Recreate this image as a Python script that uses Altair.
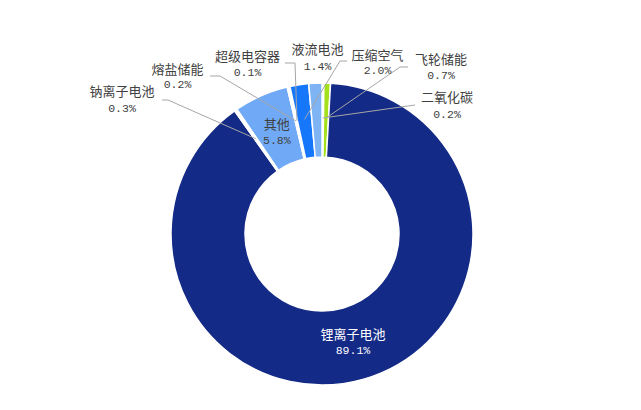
import altair as alt
import pandas as pd

# data, clockwise from 12 o'clock
names = ["二氧化碳", "飞轮储能", "锂离子电池", "钠离子电池", "其他", "熔盐储能", "超级电容器", "压缩空气", "液流电池"]
values = [0.2, 0.7, 89.1, 0.3, 5.8, 0.2, 0.1, 2.0, 1.4]
colors = ["#ffffff", "#a4e01c", "#142a87", "#ffffff", "#70aaf6", "#ffffff", "#ffffff", "#1677fb", "#7eb3f4"]

# label layout (chart pixel coords): name x, name y, pct y, leader anchor x, hook x, leader y, has line, inside
label_layout = {
    "二氧化碳": (439, 90, 107, 407, 407, 97, 1, 0),
    "飞轮储能": (433, 52, 68, 400, 392, 59, 1, 0),
    "锂离子电池": (0, 0, 0, 0, 0, 0, 0, 1),
    "钠离子电池": (114, 84, 101, 154, 160, 92, 1, 0),
    "其他": (0, 0, 0, 0, 0, 0, 0, 1),
    "熔盐储能": (169.5, 61.5, 76.5, 202, 212, 68, 1, 0),
    "超级电容器": (239.5, 48.5, 64.5, 277, 287, 55, 1, 0),
    "压缩空气": (369.5, 47.5, 62.5, 339, 332, 53, 1, 0),
    "液流电池": (309.5, 42, 58.5, 0, 0, 0, 0, 0),
}

CX, CY = 314, 226
R_OUT, R_IN = 151, 77

rows = []
for i, (n, v) in enumerate(zip(names, values)):
    lx, ly, py, ax, hx, ay, hl, ins = label_layout[n]
    rows.append(dict(idx=i, name=n, value=v, pct=f"{v:.1f}%", lx=lx, ly=ly, py=py,
                     ax=ax, hx=hx, ay=ay, has_line=hl, inside=ins))
df = pd.DataFrame(rows)

base = alt.Chart(df).transform_joinaggregate(
    total="sum(value)"
).transform_window(
    cum="sum(value)", sort=[alt.SortField("idx")], frame=[None, 0]
).transform_calculate(
    mid="(datum.cum - datum.value/2) / datum.total * 2 * PI",
).transform_calculate(
    sx=f"{CX} + 116 * sin(datum.mid)",
    sy=f"{CY} - 116 * cos(datum.mid)",
    tx=f"datum.inside ? {CX} + 112 * sin(datum.mid) : datum.lx",
    ty=f"datum.inside ? {CY} - 112 * cos(datum.mid) - 7 : datum.ly",
    tpy=f"datum.inside ? {CY} - 112 * cos(datum.mid) + 9 : datum.py",
    tcol="datum.name == '锂离子电池' ? 'white' : '#404040'",
)

arcs = alt.Chart(df).mark_arc(
    innerRadius=R_IN, outerRadius=R_OUT, stroke="white", strokeWidth=1.5
).encode(
    theta=alt.Theta("value:Q", stack=True, scale=alt.Scale(range=[0, 6.283185307179586])),
    order=alt.Order("idx:Q", sort="ascending"),
    color=alt.Color("name:N", scale=alt.Scale(domain=names, range=colors), legend=None),
    x=alt.value(CX),
    y=alt.value(CY),
)

lines_h = base.transform_filter("datum.has_line == 1").mark_rule(
    color="#a6a6a6", strokeWidth=1
).encode(
    x=alt.X("ax:Q", scale=None, axis=None),
    x2="hx:Q",
    y=alt.Y("ay:Q", scale=None, axis=None),
    y2="ay:Q",
)

lines_d = base.transform_filter("datum.has_line == 1").mark_rule(
    color="#a6a6a6", strokeWidth=1
).encode(
    x=alt.X("hx:Q", scale=None, axis=None),
    x2="sx:Q",
    y=alt.Y("ay:Q", scale=None, axis=None),
    y2="sy:Q",
)

name_text = base.mark_text(
    font="Noto Sans CJK SC", fontSize=13, align="center", baseline="middle"
).encode(
    x=alt.X("tx:Q", scale=None, axis=None),
    y=alt.Y("ty:Q", scale=None, axis=None),
    text="name:N",
    color=alt.Color("tcol:N", scale=None, legend=None),
)

pct_text = base.mark_text(
    font="Liberation Mono", fontSize=11.5, align="center", baseline="middle"
).encode(
    x=alt.X("tx:Q", scale=None, axis=None),
    y=alt.Y("tpy:Q", scale=None, axis=None),
    text="pct:N",
    color=alt.Color("tcol:N", scale=None, legend=None),
)

chart = alt.layer(arcs, lines_h, lines_d, name_text, pct_text).properties(
    width=625, height=394, autosize="none", padding=0
).configure_view(stroke=None).resolve_scale(theta="independent")

chart.save("out.html", embed_options={"renderer": "svg", "actions": False})
